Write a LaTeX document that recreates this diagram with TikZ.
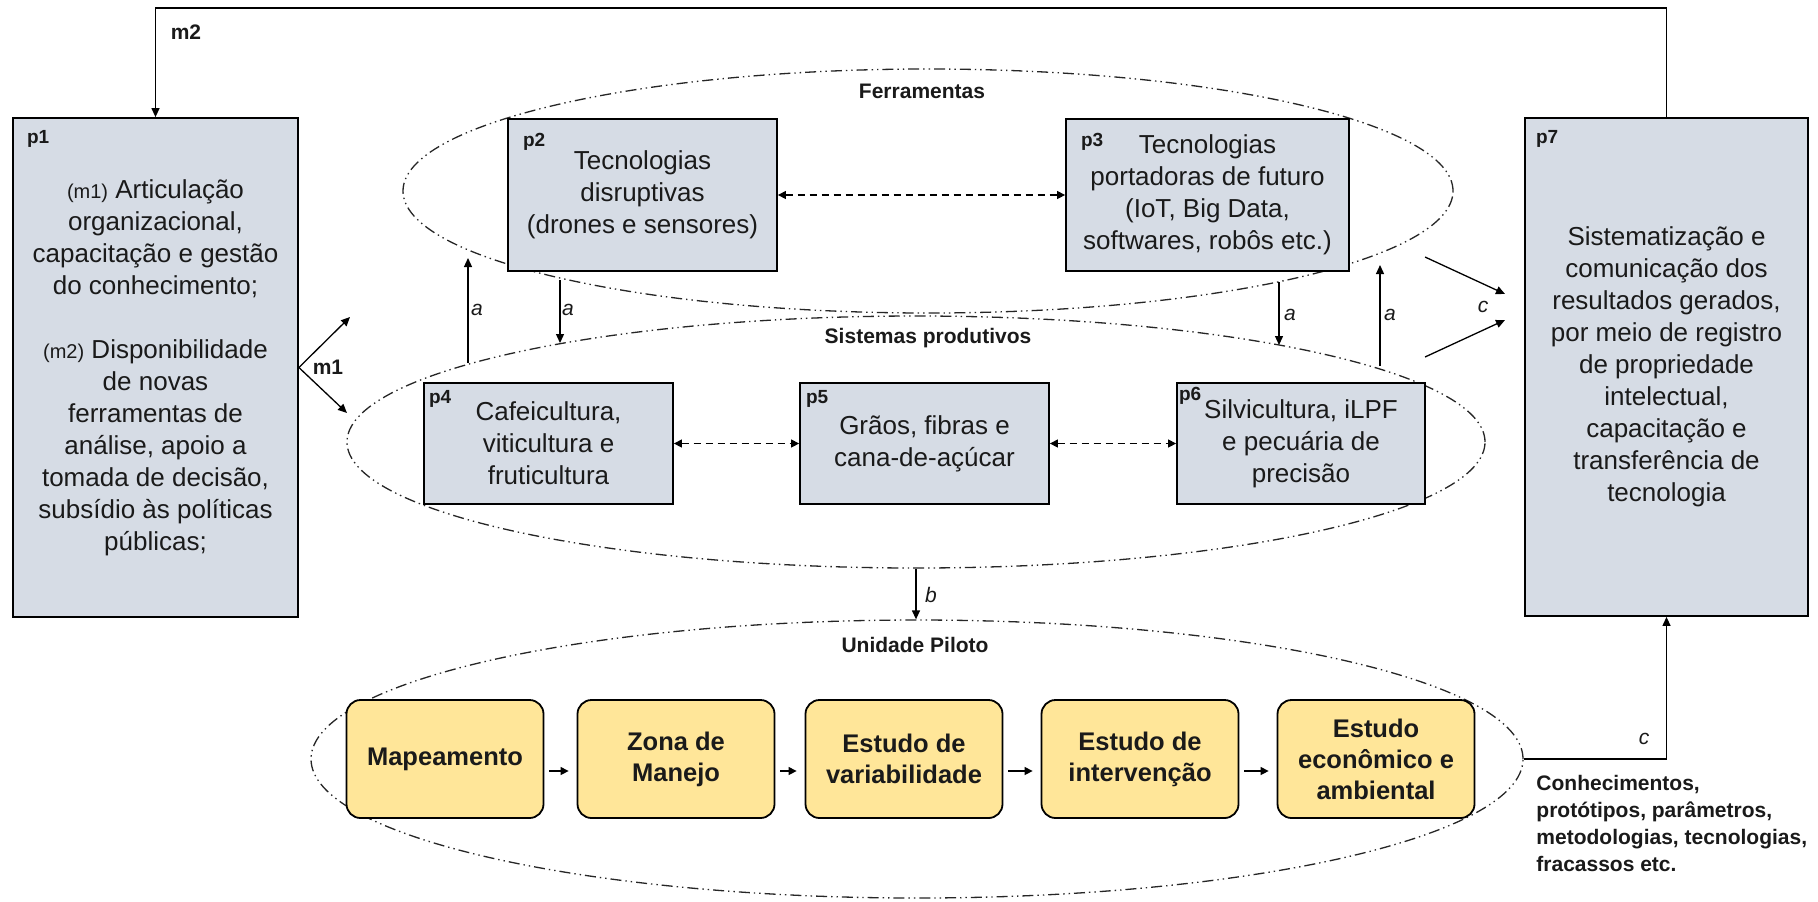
\documentclass[tikz,border=0pt]{standalone}
\usepackage{fontspec}
\setmainfont{Liberation Sans}
\usetikzlibrary{shapes.geometric,arrows.meta,calc}
\definecolor{graybox}{HTML}{D6DCE5}
\definecolor{yelbox}{HTML}{FFE699}
\definecolor{txtc}{HTML}{1A1A1A}
\newcommand{\dgMain}{\fontsize{13}{16}\selectfont}
\newcommand{\dgSmall}{\fontsize{10}{16}\selectfont}
\newcommand{\dgYel}{\fontsize{12.75}{15.5}\selectfont\bfseries}
\newcommand{\dgLbl}{\fontsize{10.5}{13.5}\selectfont\bfseries}
\newcommand{\dgPl}{\fontsize{9.5}{11}\selectfont\bfseries}
\newcommand{\dgIt}{\fontsize{10.5}{12}\selectfont\itshape}
\begin{document}
\begin{tikzpicture}[x=0.5pt,y=-0.5pt,
  gbox/.style={draw=black, line width=0.9pt, fill=graybox, inner sep=0pt, align=center, font=\dgMain, text=txtc},
  ybox/.style={draw=black, line width=0.9pt, fill=yelbox, rounded corners=7pt, inner sep=0pt, align=center, font=\dgYel, text=txtc, minimum width=98.5pt, minimum height=59pt},
  grp/.style={draw=black!85, line width=0.65pt, ellipse, inner sep=0pt, dash pattern=on 5.5pt off 2pt on 0.7pt off 2pt on 0.7pt off 2pt},
  lbl/.style={font=\dgLbl, inner sep=0pt, text=txtc},
  plbl/.style={font=\dgPl, inner sep=0pt, text=txtc},
  ital/.style={font=\dgIt, inner sep=0pt, text=txtc},
  arr/.style={line width=0.65pt, -{Triangle[length=4.5pt,width=4pt]}},
  darr/.style={line width=0.65pt, dash pattern=on 3.5pt off 2.5pt, {Triangle[length=4pt,width=4pt]}-{Triangle[length=4pt,width=4pt]}},
  sarr/.style={line width=0.65pt, -{Triangle[length=4pt,width=4pt]}, shorten <=2.3pt, shorten >=4pt}
]
\useasboundingbox (0,0) rectangle (1818,901);
\fill[white] (0,0) rectangle (1818,901);

% group ellipses
\node[grp, minimum width=525pt, minimum height=122pt] (fer) at (928,191) {};
\node[grp, minimum width=569pt, minimum height=126pt] (sis) at (916,442) {};
\node[grp, minimum width=606pt, minimum height=139pt] (uni) at (917,759) {};

% group labels
\node[lbl] (lfer) at (922,91) {Ferramentas};
\node[lbl] (lsis) at (928,338) {Sistemas produtivos};
\node[lbl] (luni) at (915,645) {Unidade Piloto};

% grey boxes
\node[gbox, minimum width=142.5pt, minimum height=249.5pt] (p1) at (155.5,367.5)
 {{\dgSmall(m1)} Articulação\\organizacional,\\capacitação e gestão\\do conhecimento;\\[16pt]{\dgSmall(m2)} Disponibilidade\\de novas\\ferramentas de\\análise, apoio a\\tomada de decisão,\\subsídio às políticas\\públicas;};
\node[gbox, minimum width=134.5pt, minimum height=76pt] (p2) at (642.5,195)
 {Tecnologias\\disruptivas\\(drones e sensores)};
\node[gbox, minimum width=141.5pt, minimum height=76pt] (p3) at (1207.5,195)
 {Tecnologias\\portadoras de futuro\\(IoT, Big Data,\\softwares, robôs etc.)};
\node[gbox, minimum width=124.5pt, minimum height=60.5pt] (p4) at (548.5,443.5)
 {Cafeicultura,\\viticultura e\\fruticultura};
\node[gbox, minimum width=124.5pt, minimum height=60.5pt] (p5) at (924.5,443.5)
 {Grãos, fibras e\\cana-de-açúcar};
\node[gbox, minimum width=124pt, minimum height=60.5pt] (p6) at (1301,443.5)
 {Silvicultura, iLPF\\e pecuária de\\precisão};
\node[gbox, minimum width=141.5pt, minimum height=249pt] (p7) at (1666.5,367)
 {Sistematização e\\comunicação dos\\resultados gerados,\\por meio de registro\\de propriedade\\intelectual,\\capacitação e\\transferência de\\tecnologia};

% p labels
\node[plbl] (lp1) at ($(p1.north west)+(26,22)$) {p1};
\node[plbl] (lp2) at ($(p2.north west)+(27,24)$) {p2};
\node[plbl] (lp3) at ($(p3.north west)+(27,24)$) {p3};
\node[plbl] (lp4) at ($(p4.north west)+(17,17)$) {p4};
\node[plbl] (lp5) at ($(p5.north west)+(18,17)$) {p5};
\node[plbl] (lp6) at ($(p6.north west)+(14,14)$) {p6};
\node[plbl] (lp7) at ($(p7.north west)+(23,22)$) {p7};

% yellow boxes
\node[ybox] (y1) at (445,759) {Mapeamento};
\node[ybox] (y2) at (676,759) {Zona de\\Manejo};
\node[ybox] (y3) at (904,759) {Estudo de\\variabilidade};
\node[ybox] (y4) at (1140,759) {Estudo de\\intervenção};
\node[ybox] (y5) at (1376,759) {Estudo\\econômico e\\ambiental};

\foreach \a/\b in {y1/y2,y2/y3,y3/y4,y4/y5}
  \draw[sarr] ([yshift=-6pt]\a.east) -- ([yshift=-6pt]\b.west);

% dashed double arrows
\draw[darr] (p2.east) -- (p3.west);
\draw[darr] (p4.east) -- (p5.west);
\draw[darr] (p5.east) -- (p6.west);

% m2 feedback
\coordinate (m2c) at (155.5,8);
\draw[arr] (p7.north) |- (m2c) -- (p1.north);
\node[lbl] (lm2) at (186,32) {m2};

% m1
\coordinate (m1u) at (350,317);
\coordinate (m1d) at (347,413);
\draw[arr] (p1.east) -- (m1u);
\draw[arr] (p1.east) -- (m1d);
\node[lbl] (lm1) at (328,367) {m1};

% a arrows
\coordinate (a1s) at (468,363); \coordinate (a1e) at (468,258);
\coordinate (a2s) at (560,280); \coordinate (a2e) at (560,343);
\coordinate (a3s) at (1279,282); \coordinate (a3e) at (1279,345);
\coordinate (a4s) at (1380,366); \coordinate (a4e) at (1380,265);
\draw[arr] (a1s) -- (a1e);
\draw[arr] (a2s) -- (a2e);
\draw[arr] (a3s) -- (a3e);
\draw[arr] (a4s) -- (a4e);
\node[ital] (la1) at (477,310) {a};
\node[ital] (la2) at (568,310) {a};
\node[ital] (la3) at (1290,315) {a};
\node[ital] (la4) at (1390,315) {a};

% c arrows to p7
\coordinate (c1s) at (1425,257); \coordinate (c1e) at (1505,294);
\coordinate (c2s) at (1425,357); \coordinate (c2e) at (1505,320);
\draw[arr] (c1s) -- (c1e);
\draw[arr] (c2s) -- (c2e);
\node[ital] (lc1) at (1483,307) {c};

% b arrow
\draw[arr] (sis.south) -- (sis.south |- uni.north);
\node[ital] (lb) at (931,595) {b};

% bottom c
\draw[arr] (uni.east) -| (p7.south);
\node[ital] (lc2) at (1644,739) {c};
\node[lbl, anchor=north west, align=left] (lcon) at (1536,775)
 {Conhecimentos,\\protótipos, parâmetros,\\metodologias, tecnologias,\\fracassos etc.};
\end{tikzpicture}
\end{document}
